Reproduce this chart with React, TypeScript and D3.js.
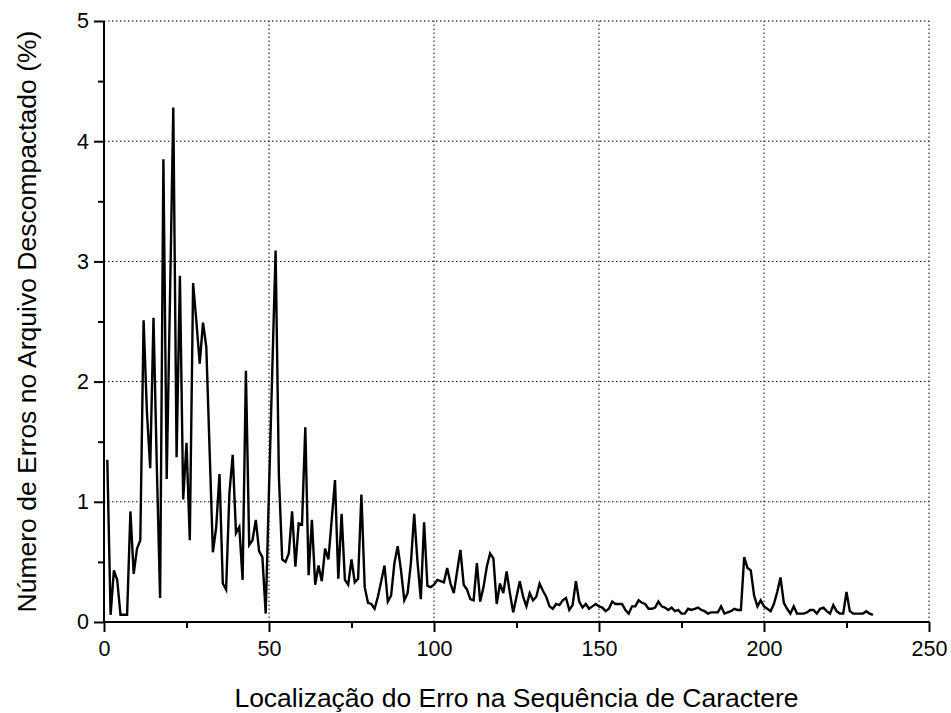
import * as d3 from 'd3';
import React, { useEffect, useRef } from 'react';

// error rate (%) at each position, starting at position 1
const errorRates = [
  1.35, 0.06, 0.43, 0.35, 0.06, 0.06, 0.06, 0.92, 0.4, 0.61,
  0.68, 2.51, 1.75, 1.28, 2.53, 1.3, 0.2, 3.85, 1.19, 2.7,
  4.28, 1.37, 2.88, 1.02, 1.49, 0.68, 2.82, 2.5, 2.15, 2.49,
  2.29, 1.43, 0.58, 0.79, 1.23, 0.32, 0.27, 1.07, 1.39, 0.74,
  0.79, 0.35, 2.09, 0.64, 0.68, 0.85, 0.59, 0.54, 0.07, 1.1,
  2.1, 3.09, 1.21, 0.52, 0.5, 0.57, 0.92, 0.46, 0.82, 0.81,
  1.62, 0.39, 0.85, 0.31, 0.47, 0.34, 0.61, 0.52, 0.85, 1.18,
  0.36, 0.9, 0.35, 0.31, 0.52, 0.33, 0.36, 1.06, 0.29, 0.16,
  0.15, 0.11, 0.21, 0.34, 0.47, 0.17, 0.22, 0.49, 0.63, 0.43,
  0.18, 0.24, 0.49, 0.9, 0.5, 0.19, 0.83, 0.3, 0.29, 0.31,
  0.35, 0.34, 0.33, 0.45, 0.32, 0.24, 0.42, 0.6, 0.31, 0.27,
  0.19, 0.18, 0.49, 0.17, 0.29, 0.46, 0.57, 0.53, 0.15, 0.32,
  0.24, 0.42, 0.24, 0.08, 0.21, 0.34, 0.21, 0.13, 0.24, 0.18,
  0.21, 0.32, 0.26, 0.21, 0.13, 0.11, 0.15, 0.14, 0.18, 0.2,
  0.1, 0.14, 0.34, 0.17, 0.12, 0.15, 0.11, 0.13, 0.15, 0.13,
  0.12, 0.09, 0.11, 0.17, 0.15, 0.15, 0.15, 0.1, 0.07, 0.13,
  0.13, 0.18, 0.16, 0.15, 0.11, 0.11, 0.12, 0.17, 0.13, 0.12,
  0.1, 0.12, 0.09, 0.1, 0.07, 0.07, 0.11, 0.1, 0.11, 0.12,
  0.1, 0.09, 0.07, 0.08, 0.08, 0.08, 0.13, 0.07, 0.08, 0.09,
  0.11, 0.1, 0.1, 0.54, 0.45, 0.43, 0.22, 0.13, 0.18, 0.13,
  0.11, 0.09, 0.15, 0.25, 0.37, 0.16, 0.11, 0.07, 0.13, 0.07,
  0.07, 0.07, 0.08, 0.1, 0.1, 0.07, 0.11, 0.12, 0.09, 0.07,
  0.14, 0.09, 0.07, 0.07, 0.25, 0.09, 0.07, 0.07, 0.07, 0.07,
  0.09, 0.07, 0.06,
];
const positions = errorRates.map((_, i) => i + 1);

const xTicks = [0, 50, 100, 150, 200, 250];
const xMinorTicks = [25, 75, 125, 175, 225];
const yTicks = [0, 1, 2, 3, 4, 5];
const yMinorTicks = [0.5, 1.5, 2.5, 3.5, 4.5];

const xTitle = 'Localização do Erro na Sequência de Caractere';
const yTitle = 'Número de Erros no Arquivo Descompactado (%)';

const width = 951;
const height = 713;
const margin = { left: 104, right: 22, top: 21, bottom: 91 };
const font = '"Liberation Sans", Arial, Helvetica, sans-serif';

function ErrorChart() {
  const node = useRef<SVGSVGElement>(null);

  useEffect(() => {
    const svg = d3.select(node.current);
    svg.selectAll('*').remove();

    const x = d3
      .scaleLinear()
      .domain([0, 250])
      .range([margin.left, width - margin.right]);
    const y = d3
      .scaleLinear()
      .domain([0, 5])
      .range([height - margin.bottom, margin.top]);

    // dotted grid
    const grid = svg.append('g').attr('stroke', '#000').attr('stroke-width', 1).attr('stroke-dasharray', '1.5,2.5');
    grid
      .selectAll('line.gx')
      .data(xTicks.slice(1))
      .enter()
      .append('line')
      .attr('x1', (d) => x(d))
      .attr('x2', (d) => x(d))
      .attr('y1', y(0))
      .attr('y2', y(5));
    grid
      .selectAll('line.gy')
      .data(yTicks.slice(1))
      .enter()
      .append('line')
      .attr('y1', (d) => y(d))
      .attr('y2', (d) => y(d))
      .attr('x1', x(0))
      .attr('x2', x(250));

    // data line
    const line = d3
      .line<number>()
      .x((d, i) => x(positions[i]))
      .y((d) => y(d));
    svg
      .append('path')
      .datum(errorRates)
      .attr('fill', 'none')
      .attr('stroke', '#000')
      .attr('stroke-width', 2.4)
      .attr('stroke-linejoin', 'miter')
      .attr('d', line);

    // axes
    const xAxis = d3.axisBottom(x).tickValues(xTicks).tickSize(10).tickFormat(d3.format('d'));
    const xMinor = d3.axisBottom(x).tickValues(xMinorTicks).tickSize(6).tickFormat(() => '');
    const yAxis = d3.axisLeft(y).tickValues(yTicks).tickSize(10).tickFormat(d3.format('d'));
    const yMinor = d3.axisLeft(y).tickValues(yMinorTicks).tickSize(6).tickFormat(() => '');

    const styleAxis = (g) => {
      g.selectAll('path').attr('stroke-width', 2);
      g.selectAll('line').attr('stroke-width', 2);
      g.selectAll('text').attr('font-family', font).attr('font-size', 21.5).attr('fill', '#000');
    };

    svg
      .append('g')
      .attr('transform', 'translate(0,' + y(0) + ')')
      .call(xMinor)
      .call(styleAxis)
      .select('path')
      .remove();
    svg
      .append('g')
      .attr('transform', 'translate(' + x(0) + ',0)')
      .call(yMinor)
      .call(styleAxis)
      .select('path')
      .remove();
    const gx = svg
      .append('g')
      .attr('transform', 'translate(0,' + y(0) + ')')
      .call(xAxis)
      .call(styleAxis);
    gx.select('path').attr('d', 'M' + x(0) + ',0H' + x(250));
    gx.selectAll('text').attr('dy', '0.71em').attr('y', 19);

    const gy = svg
      .append('g')
      .attr('transform', 'translate(' + x(0) + ',0)')
      .call(yAxis)
      .call(styleAxis);
    gy.select('path').attr('d', 'M0,' + y(0) + 'V' + y(5));
    gy.selectAll('text').attr('x', -15);

    // titles
    svg
      .append('text')
      .attr('x', (x(0) + x(250)) / 2)
      .attr('y', 707)
      .attr('text-anchor', 'middle')
      .attr('font-family', font)
      .attr('font-size', 26.5)
      .text(xTitle);
    svg
      .append('text')
      .attr('transform', 'translate(36,' + (y(0) + y(5)) / 2 + ') rotate(-90)')
      .attr('text-anchor', 'middle')
      .attr('font-family', font)
      .attr('font-size', 26.5)
      .text(yTitle);
  }, []);

  return <svg ref={node} width={width} height={height} style={{ position: 'absolute', left: 0, top: 0, background: '#fff' }} />;
}

export default function App() {
  return <ErrorChart />;
}
